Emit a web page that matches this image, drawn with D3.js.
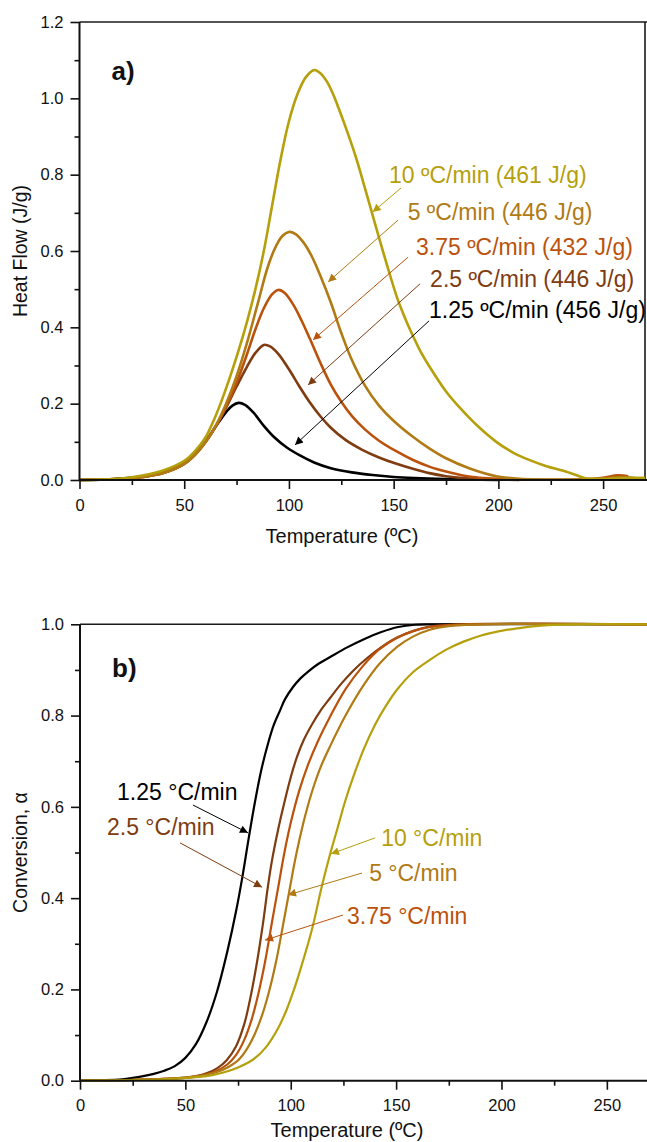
<!DOCTYPE html>
<html>
<head>
<meta charset="utf-8">
<script src="https://cdn.jsdelivr.net/npm/d3@7"></script>
<style>
  html, body { margin: 0; padding: 0; background: #fff; }
  svg { display: block; font-family: "Liberation Sans", Arial, Helvetica, sans-serif; }
</style>
</head>
<body>
<svg id="chart" width="647" height="1142"></svg>
<script>
// Heating rates (series) and their colours
const rates = ["1.25", "2.5", "3.75", "5", "10"];
const enthalpies = ["456", "446", "432", "446", "461"];
const colors = ["#000000", "#7e3c10", "#bb520c", "#b07a14", "#b5a00c"];

// Panel a: DSC heat flow (J/g) vs temperature (ºC)
const hf125 = [[0,0],[10,0.001],[20,0.004],[30,0.01],[40,0.022],[50,0.045],[55,0.068],[60,0.1],[65,0.14],[70,0.178],[73,0.195],[76,0.202],[79,0.197],[83,0.177],[88,0.142],[93,0.112],[99,0.085],[105,0.065],[112,0.046],[120,0.031],[130,0.02],[140,0.013],[150,0.008],[160,0.005],[170,0.003],[185,0.001],[200,0]];
const hf25 = [[0,0],[10,0.001],[20,0.003],[30,0.008],[40,0.018],[50,0.042],[55,0.065],[60,0.098],[65,0.14],[70,0.19],[75,0.245],[80,0.297],[84,0.333],[88,0.354],[91,0.35],[95,0.33],[100,0.29],[105,0.245],[110,0.203],[115,0.167],[120,0.137],[127,0.105],[135,0.079],[143,0.059],[151,0.043],[160,0.028],[167,0.018],[175,0.01],[183,0.005],[195,0.002],[210,0]];
const hf375 = [[0,0],[10,0.001],[20,0.003],[30,0.008],[40,0.018],[50,0.042],[55,0.065],[60,0.098],[65,0.14],[70,0.192],[75,0.255],[80,0.33],[84,0.395],[88,0.45],[92,0.487],[95,0.498],[98,0.49],[102,0.46],[106,0.418],[110,0.37],[115,0.307],[120,0.25],[125,0.205],[130,0.168],[136,0.134],[143,0.103],[151,0.076],[159,0.053],[167,0.035],[175,0.022],[183,0.012],[191,0.006],[200,0.003],[215,0.001],[240,0.002],[250,0.006],[257,0.012],[262,0.01]];
const hf5 = [[0,0],[10,0.001],[20,0.003],[30,0.008],[40,0.018],[50,0.042],[55,0.065],[60,0.098],[65,0.142],[70,0.2],[75,0.272],[80,0.36],[85,0.46],[90,0.56],[94,0.615],[97,0.64],[100,0.65],[103,0.645],[107,0.622],[111,0.585],[115,0.535],[120,0.465],[125,0.385],[130,0.315],[136,0.25],[143,0.195],[151,0.15],[159,0.114],[167,0.083],[175,0.057],[186,0.031],[199,0.01],[210,0.003],[230,0.001],[250,0.003],[258,0.008],[270,0.002]];
const hf10 = [[0,0],[10,0.001],[20,0.004],[30,0.012],[40,0.025],[50,0.05],[55,0.075],[60,0.11],[64,0.155],[68,0.21],[72,0.272],[76,0.34],[80,0.415],[84,0.5],[88,0.6],[92,0.72],[96,0.84],[100,0.94],[104,1.01],[108,1.055],[112,1.074],[115,1.066],[118,1.045],[121,1.012],[124,0.97],[128,0.91],[132,0.845],[135.5,0.78],[138.6,0.72],[143,0.635],[147,0.56],[151.5,0.48],[155,0.43],[159,0.38],[163,0.335],[167,0.298],[175,0.232],[182,0.187],[190,0.142],[199,0.1],[207,0.072],[215,0.052],[223,0.036],[231,0.024],[237,0.013],[241,0.005],[245,0.003],[255,0.004],[270,0.006]];

// Panel b: conversion vs temperature (ºC)
const cv125 = [[0,0],[10,0.001],[20,0.003],[25,0.006],[30,0.01],[35,0.015],[40,0.022],[45,0.032],[50,0.05],[55,0.08],[60,0.128],[65,0.195],[70,0.285],[74,0.37],[77,0.445],[80,0.53],[83,0.61],[86,0.68],[89,0.735],[92,0.78],[95,0.812],[97.3,0.836],[101,0.862],[104.5,0.881],[108.4,0.897],[113,0.913],[119.3,0.93],[127,0.95],[135,0.968],[143,0.983],[151,0.994],[159,0.999],[167,1],[270,1]];
const cv25 = [[0,0],[20,0.001],[40,0.004],[50,0.007],[55,0.01],[60,0.016],[65,0.027],[69.6,0.045],[74,0.075],[78,0.125],[81,0.185],[84,0.26],[87,0.35],[89,0.42],[91,0.48],[94,0.55],[97,0.61],[100,0.665],[103,0.71],[106,0.745],[110,0.78],[114,0.81],[118.6,0.838],[124,0.87],[130,0.9],[136,0.925],[143,0.95],[150,0.97],[158,0.985],[166,0.995],[180,1],[270,1]];
const cv375 = [[0,0],[20,0.001],[40,0.004],[50,0.006],[55,0.009],[60,0.014],[65,0.022],[70,0.036],[74,0.056],[78,0.09],[81.5,0.135],[84.6,0.19],[88,0.265],[91,0.345],[94.1,0.425],[97,0.5],[100,0.565],[104,0.635],[108,0.69],[113,0.745],[118.6,0.797],[126,0.858],[134.5,0.91],[142,0.945],[150.3,0.97],[158,0.985],[166,0.994],[175,0.998],[185,1],[270,1]];
const cv5 = [[0,0],[20,0.001],[40,0.004],[50,0.007],[60,0.013],[65,0.019],[70,0.029],[75.1,0.045],[79,0.068],[83,0.103],[86,0.138],[89.4,0.19],[93,0.26],[96.5,0.345],[99.7,0.425],[102,0.482],[106,0.565],[110,0.632],[114,0.685],[118.6,0.732],[126,0.8],[134.5,0.866],[142,0.913],[150.3,0.95],[158,0.973],[166,0.988],[175,0.996],[190,1],[270,1]];
const cv10 = [[0,0],[20,0.001],[40,0.003],[50,0.006],[60,0.01],[68,0.018],[75,0.029],[82.3,0.047],[88,0.072],[94,0.115],[98,0.155],[101.2,0.195],[105,0.25],[110,0.33],[114.7,0.425],[118.6,0.495],[122,0.55],[126,0.615],[130,0.67],[134.5,0.725],[140,0.78],[145,0.82],[150.3,0.856],[158,0.895],[166,0.922],[174,0.945],[182,0.962],[190,0.975],[198,0.984],[206,0.99],[213.6,0.995],[222,0.998],[235,1],[270,1]];

// Axis ticks
const xTicks = [0, 50, 100, 150, 200, 250];
const xMinor = [25, 75, 125, 175, 225];
const yTicksA = [0, 0.2, 0.4, 0.6, 0.8, 1.0, 1.2];
const yMinorA = [0.1, 0.3, 0.5, 0.7, 0.9, 1.1];
const yTicksB = [0, 0.2, 0.4, 0.6, 0.8, 1.0];
const yMinorB = [0.1, 0.3, 0.5, 0.7, 0.9];

// Annotation anchors (data units): text position, arrow start, arrow tip
const notesA = [
  {s: 4, text: [147.8, 0.778], from: [153.5, 0.765], to: [140.0, 0.702]},
  {s: 3, text: [156.7, 0.681], from: [152.1, 0.681], to: [118.7, 0.519]},
  {s: 2, text: [160.7, 0.590], from: [156.9, 0.584], to: [111.5, 0.367]},
  {s: 1, text: [167.4, 0.506], from: [162.6, 0.514], to: [109.1, 0.249]},
  {s: 0, text: [166.9, 0.424], from: [166.9, 0.417], to: [102.9, 0.092]}
];
const notesB = [
  {s: 0, text: [17.6, 0.615], from: [53.6, 0.604], to: [79.7, 0.543]},
  {s: 1, text: [12.8, 0.538], from: [47.5, 0.521], to: [86.4, 0.424]},
  {s: 4, text: [142.9, 0.514], from: [140.0, 0.532], to: [119.1, 0.497]},
  {s: 3, text: [137.2, 0.438], from: [133.8, 0.455], to: [98.7, 0.407]},
  {s: 2, text: [126.7, 0.343], from: [124.8, 0.363], to: [87.8, 0.308]}
];

const svg = d3.select("#chart");

// Arrowhead markers, one per series colour
const defs = svg.append("defs");
colors.forEach((c, i) => {
  defs.append("marker")
    .attr("id", "arr" + i)
    .attr("viewBox", "0 0 10 10")
    .attr("refX", 10).attr("refY", 5)
    .attr("markerUnits", "userSpaceOnUse")
    .attr("markerWidth", 11).attr("markerHeight", 8)
    .attr("orient", "auto")
    .append("path")
    .attr("d", "M0,0 L10,5 L0,10 Z")
    .attr("fill", c);
});

function panel(opts) {
  const x = d3.scaleLinear().domain([0, 270]).range(opts.xr);
  const y = d3.scaleLinear().domain(opts.yd).range(opts.yr);
  const g = svg.append("g");

  // frame: top border and (optionally) right border
  g.append("line")
    .attr("x1", x(0)).attr("x2", opts.xr[1] + 2)
    .attr("y1", y(opts.yd[1])).attr("y2", y(opts.yd[1]))
    .attr("stroke", "#1a1a1a").attr("stroke-width", 1.6);
  if (opts.rightBorder) {
    g.append("line")
      .attr("x1", x(270)).attr("x2", x(270))
      .attr("y1", y(opts.yd[1])).attr("y2", y(0))
      .attr("stroke", "#1a1a1a").attr("stroke-width", 1.6);
  }

  // curves
  const line = d3.line().x(d => x(d[0])).y(d => y(d[1])).curve(d3.curveCatmullRom.alpha(0.5));
  opts.series.forEach((s, i) => {
    g.append("path")
      .attr("d", line(s))
      .attr("fill", "none")
      .attr("stroke", colors[i])
      .attr("stroke-width", opts.lw)
      .attr("stroke-linejoin", "round");
  });

  // axes
  const fmt = d3.format(".1f");
  const xAxis = g.append("g").attr("transform", `translate(0,${y(0)})`)
    .call(d3.axisBottom(x).tickValues(xTicks).tickSize(9).tickPadding(10).tickFormat(d3.format("d")));
  const xMin = g.append("g").attr("transform", `translate(0,${y(0)})`)
    .call(d3.axisBottom(x).tickValues(xMinor).tickSize(5).tickFormat(""));
  const yAxis = g.append("g").attr("transform", `translate(${x(0)},0)`)
    .call(d3.axisLeft(y).tickValues(opts.yTicks).tickSize(9).tickPadding(7).tickFormat(fmt));
  const yMin = g.append("g").attr("transform", `translate(${x(0)},0)`)
    .call(d3.axisLeft(y).tickValues(opts.yMinor).tickSize(5).tickFormat(""));
  [xAxis, xMin, yAxis, yMin].forEach(a => {
    a.select(".domain").attr("stroke", "#111").attr("stroke-width", 2);
    a.selectAll(".tick line").attr("stroke", "#111").attr("stroke-width", 1.6);
    a.selectAll(".tick text").attr("font-size", 16.5).attr("fill", "#111")
      .attr("font-family", "'Liberation Sans', Arial, sans-serif");
  });
  xMin.select(".domain").remove();
  yMin.select(".domain").remove();
  // extend the bottom axis to the plot's right edge
  xAxis.select(".domain").attr("d", `M${x(0)},0H${opts.xr[1] + 2}`);
  yAxis.select(".domain").attr("d", `M0,${y(0)}V${y(opts.yd[1])}`);

  // axis titles
  g.append("text")
    .attr("x", opts.xTitleX).attr("y", y(0) + opts.xTitleDy)
    .attr("text-anchor", "middle").attr("font-size", 20).attr("fill", "#111")
    .text("Temperature (ºC)");
  g.append("text")
    .attr("transform", `translate(27,${(y(0) + y(opts.yd[1])) / 2}) rotate(-90)`)
    .attr("text-anchor", "middle").attr("font-size", 19.5).attr("fill", "#111")
    .text(opts.yTitle);

  // panel letter
  g.append("text")
    .attr("x", x(0) + 32).attr("y", y(opts.yd[1]) + opts.letterDy)
    .attr("font-size", 26).attr("font-weight", "bold").attr("fill", "#111")
    .text(opts.letter);

  // annotations
  opts.notes.forEach(n => {
    g.append("line")
      .attr("x1", x(n.from[0])).attr("y1", y(n.from[1]))
      .attr("x2", x(n.to[0])).attr("y2", y(n.to[1]))
      .attr("stroke", colors[n.s]).attr("stroke-width", 1)
      .attr("marker-end", `url(#arr${n.s})`);
    g.append("text")
      .attr("x", x(n.text[0])).attr("y", y(n.text[1]))
      .attr("font-size", 23).attr("fill", colors[n.s])
      .text(opts.label(n.s));
  });
}

panel({
  xr: [79.5, 645], yd: [0, 1.2], yr: [480, 22],
  series: [hf125, hf25, hf375, hf5, hf10], lw: 2.6,
  yTicks: yTicksA, yMinor: yMinorA,
  yTitle: "Heat Flow (J/g)", xTitleX: 342, xTitleDy: 63, letter: "a)", letterDy: 58,
  rightBorder: true, notes: notesA,
  label: i => `${rates[i]} ºC/min (${enthalpies[i]} J/g)`
});

panel({
  xr: [80, 649], yd: [0, 1.0], yr: [1080.7, 624.3],
  series: [cv125, cv25, cv375, cv5, cv10], lw: 2.2,
  yTicks: yTicksB, yMinor: yMinorB,
  yTitle: "Conversion, α", xTitleX: 347, xTitleDy: 56, letter: "b)", letterDy: 53,
  rightBorder: false, notes: notesB,
  label: i => `${rates[i]} °C/min`
});
</script>
</body>
</html>
